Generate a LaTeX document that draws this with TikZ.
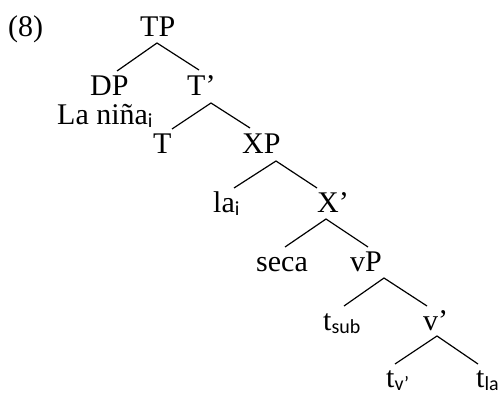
\documentclass[tikz,border=0pt]{standalone}
\usepackage{fontspec}
\setmainfont{Liberation Serif}
\newfontfamily\subfont{Carlito}
\newcommand{\sbs}[1]{\raisebox{-3pt}{\subfont\fontsize{20}{24}\selectfont #1}}
\begin{document}
\begin{tikzpicture}[x=1pt,y=-1pt,
  lbl/.style={anchor=base west,inner sep=0pt,font=\fontsize{30}{36}\selectfont},
  edge/.style={line width=1.2pt}]
\useasboundingbox (0,0) rectangle (502,394);
\node[lbl] (ex) at (8,36) {(8)};
\node[lbl] (TP) at (140,36) {TP};
\node[lbl] (DP) at (90,95) {DP};
\node[lbl] (Tb) at (187,95) {T’};
\node[lbl] (nina) at (57,124) {La niña\sbs{i}};
\node[lbl] (T) at (153,153) {T};
\node[lbl] (XP) at (242,153) {XP};
\node[lbl] (la) at (213,212) {la\sbs{i}};
\node[lbl] (Xb) at (317,212) {X’};
\node[lbl] (seca) at (256,271) {seca};
\node[lbl] (vP) at (350,271) {vP};
\node[lbl] (tsub) at (323,330) {t\sbs{sub}};
\node[lbl] (vb) at (423,330) {v’};
\node[lbl] (tv) at (386,387) {t\sbs{v’}};
\node[lbl] (tla) at (476,387) {t\sbs{la}};
% connector end points
\coordinate (a1) at (157,43); \coordinate (l1) at (117,71); \coordinate (r1) at (199,70);
\coordinate (a2) at (211,103); \coordinate (l2) at (172,129); \coordinate (r2) at (250,128);
\coordinate (a3) at (276,161); \coordinate (l3) at (234,188); \coordinate (r3) at (317,188);
\coordinate (a4) at (326,219); \coordinate (l4) at (285,247); \coordinate (r4) at (368,247);
\coordinate (a5) at (384,278); \coordinate (l5) at (344,306); \coordinate (r5) at (427,306);
\coordinate (a6) at (437,336); \coordinate (l6) at (395,364); \coordinate (r6) at (478,364);
\foreach \i in {1,...,6}{
  \draw[edge] (l\i) -- (a\i) -- (r\i);
}
\end{tikzpicture}
\end{document}
